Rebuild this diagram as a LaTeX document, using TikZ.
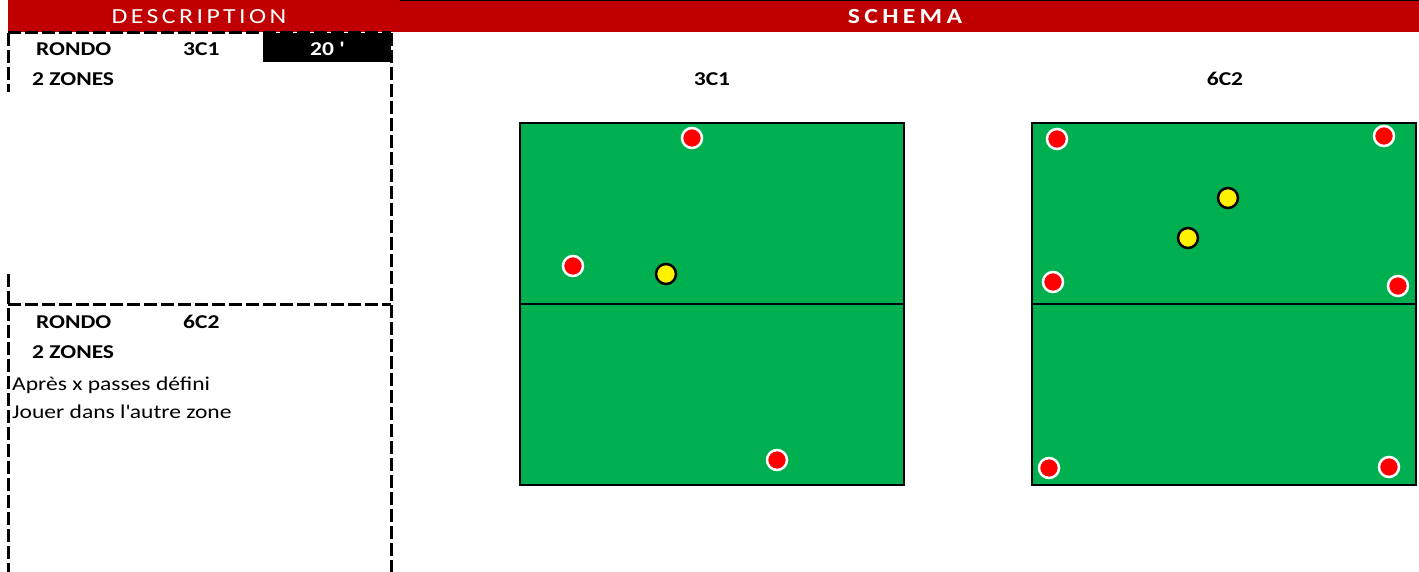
\documentclass[tikz,border=0pt]{standalone}
\usepackage{fontspec}
\setmainfont[FakeStretch=1.2]{Carlito}
\newfontfamily\spaced[FakeStretch=1.2, LetterSpace=16]{Carlito}
\newfontfamily\bspaced[FakeStretch=1.2, LetterSpace=20, UprightFont=*-Bold]{Carlito}
\usepackage{xcolor}
\usepackage{tikz}
\usetikzlibrary{positioning}
\definecolor{hdrred}{HTML}{C00000}
\definecolor{pitch}{HTML}{00B050}
\tikzstyle{red player}=[circle, draw=white, line width=2.5pt, fill=red,
  minimum size=20pt, inner sep=0pt]
\tikzstyle{yel player}=[circle, draw=black, line width=2.5pt, fill=yellow,
  minimum size=20pt, inner sep=0pt]
\tikzstyle{cell}=[draw=black, line width=3pt, dash pattern=on 13pt off 4pt]

\begin{document}
\begin{tikzpicture}[x=1pt, y=-1pt,
  txt/.style={anchor=base west, inner sep=0pt, font=\fontsize{19.6}{22}\selectfont},
  btxt/.style={txt, font=\fontsize{19.6}{22}\selectfont\bfseries},
  head/.style={anchor=base, inner sep=0pt, text=white, font=\fontsize{21.5}{24}\selectfont\spaced},
  title/.style={anchor=base, inner sep=0pt, font=\fontsize{19.6}{22}\selectfont\bfseries},
  field/.style={draw=black, line width=2pt, fill=pitch}]
\useasboundingbox (0,0) rectangle (1419,572);
% header
\fill[hdrred] (8,0) rectangle (1419,32);
\draw[line width=1pt] (400,0.5) -- (1419,0.5);
\node[head] (desc) at (199,24) {DESCRIPTION};
\node[head, font=\fontsize{21.5}{24}\selectfont\bspaced] (schema) at (905,24) {SCHEMA};
% description cells
\fill[black] (263,33) rectangle (391,62);
\draw[cell] (8,33) -- (391,33);
\draw[cell] (8,33) -- (8,92);
\draw[cell] (8,274) -- (8,572);
\draw[cell] (391,33) -- (391,572);
\draw[cell] (8,304) -- (391,304);
\node[btxt] (r1) at (36,56) {RONDO};
\node[btxt] (n1) at (183,56) {3C1};
\node[title, text=white] (t1) at (327,56) {20 \textquotesingle};
\node[btxt] (z1) at (32,86) {2 ZONES};
\node[btxt] (r2) at (36,328) {RONDO};
\node[btxt] (n2) at (183,328) {6C2};
\node[btxt] (z2) at (32,358) {2 ZONES};
\node[txt] (l1) at (12,390) {Après x passes défini};
\node[txt] (l2) at (12,418) {Jouer dans l\textquotesingle autre zone};
% schema titles
\node[title] (s1) at (712,86) {3C1};
\node[title] (s2) at (1225,86) {6C2};
% pitch 3C1
\draw[field] (520,123) rectangle (904,485);
\draw[line width=2pt] (520,303.5) -- (904,303.5);
\node[red player] (a1) at (692,138) {};
\node[red player] (a2) at (573,266) {};
\node[red player] (a3) at (777,460) {};
\node[yel player] (a4) at (666,274) {};
% pitch 6C2
\draw[field] (1032,123) rectangle (1416,485);
\draw[line width=2pt] (1032,303.5) -- (1416,303.5);
\node[red player] (b1) at (1057,139) {};
\node[red player] (b2) at (1384,136) {};
\node[red player] (b3) at (1053,282) {};
\node[red player] (b4) at (1398,286) {};
\node[red player] (b5) at (1049,468) {};
\node[red player] (b6) at (1389,467) {};
\node[yel player] (b7) at (1228,198) {};
\node[yel player] (b8) at (1188,238) {};
\end{tikzpicture}
\end{document}
